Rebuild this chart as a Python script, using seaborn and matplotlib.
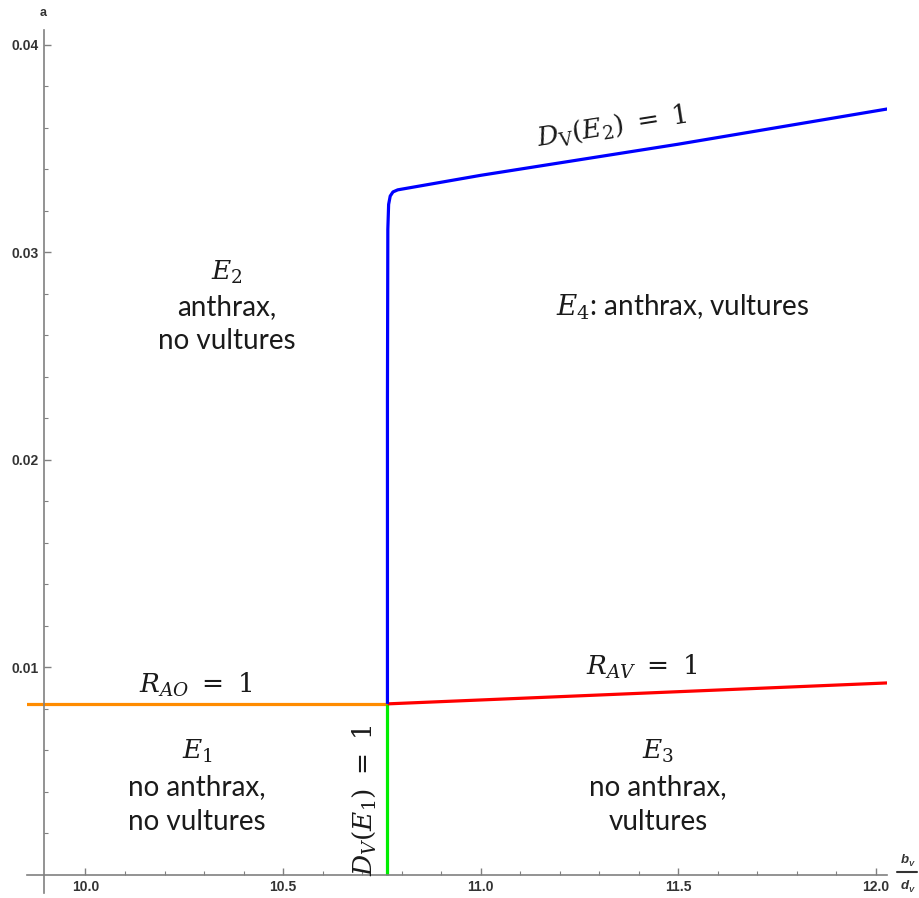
import numpy as np
import pandas as pd
import matplotlib
matplotlib.use("Agg")
import matplotlib.pyplot as plt
from matplotlib.ticker import FixedLocator, FormatStrFormatter
from matplotlib.lines import Line2D
import seaborn as sns

# boundary curves (x = b_V/d_V, y = a)
orange_x = [9.85, 10.764]
orange_y = [0.00824, 0.00824]
green_x = [10.764, 10.764]
green_y = [0.0, 0.00824]
red_x = [10.764, 12.03]
red_y = [0.00824, 0.00925]
blue_x = [10.764, 10.764, 10.765, 10.767, 10.771, 10.778, 10.79, 11.0, 11.5, 12.03]
blue_y = [0.00824, 0.0229, 0.0311, 0.0323, 0.0327, 0.0329, 0.0330, 0.0337, 0.0352, 0.0369]

x_ticks = [10.0, 10.5, 11.0, 11.5, 12.0]
y_ticks = [0.01, 0.02, 0.03, 0.04]

sns.set_style("white")
plt.rcParams["mathtext.fontset"] = "dejavuserif"
plt.rcParams["font.family"] = ["Lato", "DejaVu Sans"]

W, H = 920, 898
fig = plt.figure(figsize=(W / 100, H / 100), dpi=100)
ax = fig.add_axes([27 / W, 1 - 893 / H, (887 - 27) / W, (893 - 30) / H])

lw = 2.3
for xs, ys, col in [(orange_x, orange_y, "#ff8c00"), (green_x, green_y, "#00ee00"),
                    (red_x, red_y, "#ff0000"), (blue_x, blue_y, "#0000ff")]:
    df = pd.DataFrame({"x": xs, "y": ys})
    sns.lineplot(data=df, x="x", y="y", sort=False, estimator=None, color=col,
                 linewidth=lw, ax=ax, solid_capstyle="butt")

ax.set_xlim(9.852, 12.028)
ax.set_ylim(-0.00087, 0.0407)
ax.set_xlabel("")
ax.set_ylabel("")

for s in ["top", "right"]:
    ax.spines[s].set_visible(False)
ax.spines["left"].set_position(("data", 9.895))
ax.spines["bottom"].set_position(("data", 0.0))
for s in ["left", "bottom"]:
    ax.spines[s].set_color("#808080")
    ax.spines[s].set_linewidth(1.2)

ax.set_xticks(x_ticks)
ax.set_yticks(y_ticks)
ax.xaxis.set_minor_locator(FixedLocator(
    [v for v in np.arange(10.0, 12.05, 0.1) if round(v * 10) % 5 != 0]))
ax.yaxis.set_minor_locator(FixedLocator(
    [v for v in np.arange(0.002, 0.0405, 0.002) if round(v * 1000) % 10 != 0]))
ax.xaxis.set_major_formatter(FormatStrFormatter("%.1f"))
ax.yaxis.set_major_formatter(FormatStrFormatter("%.2f"))
ax.tick_params(axis="x", which="both", bottom=True)
ax.tick_params(axis="y", which="both", left=True)
ax.tick_params(which="major", direction="in", length=5, width=1, color="#808080",
               labelsize=10, labelcolor="#333333", pad=4)
ax.tick_params(which="minor", direction="in", length=3, width=0.8, color="#808080")
for lab in ax.get_xticklabels() + ax.get_yticklabels():
    lab.set_fontweight("bold")
    lab.set_family(["Liberation Sans", "DejaVu Sans"])


def px(x, y):
    return x / W, 1 - y / H


def put(x, y, s, size, **kw):
    kw.setdefault("color", "#1a1a1a")
    fig.text(*px(x, y), s, fontsize=size, ha="center", va="center", **kw)


# axis labels
axfont = dict(fontweight="bold", family=["Liberation Sans", "DejaVu Sans"], color="#333333")
put(43, 13, "a", 9, **axfont)
put(905, 860, "b", 9.5, style="italic", **axfont)
put(911, 864, "V", 5.5, style="italic", **axfont)
put(905, 886, "d", 9.5, style="italic", **axfont)
put(911, 890, "V", 5.5, style="italic", **axfont)
fig.add_artist(Line2D([897 / W, 917 / W], [1 - 872 / H, 1 - 872 / H],
                      color="#333333", linewidth=1.5))

# curve labels
put(612, 127, r"$D_{\mathrm{V}}(E_2)\ =\ 1$", 19, rotation=9)
put(196, 685, r"$R_{AO}\ =\ 1$", 19)
put(642, 667, r"$R_{AV}\ =\ 1$", 19)
put(364, 800, r"$D_V(E_1)\ =\ 1$", 19, rotation=90)

# region labels
rs = 20
ms = 19
put(227, 272, r"$E_2$", ms)
put(227, 307, "anthrax,", rs)
put(227, 341, "no vultures", rs)
put(683, 307, r"$E_4$: anthrax, vultures", rs)
put(197, 751, r"$E_1$", ms)
put(197, 787, "no anthrax,", rs)
put(197, 822, "no vultures", rs)
put(658, 751, r"$E_3$", ms)
put(658, 787, "no anthrax,", rs)
put(658, 822, "vultures", rs)

fig.savefig("out.png", dpi=100)
